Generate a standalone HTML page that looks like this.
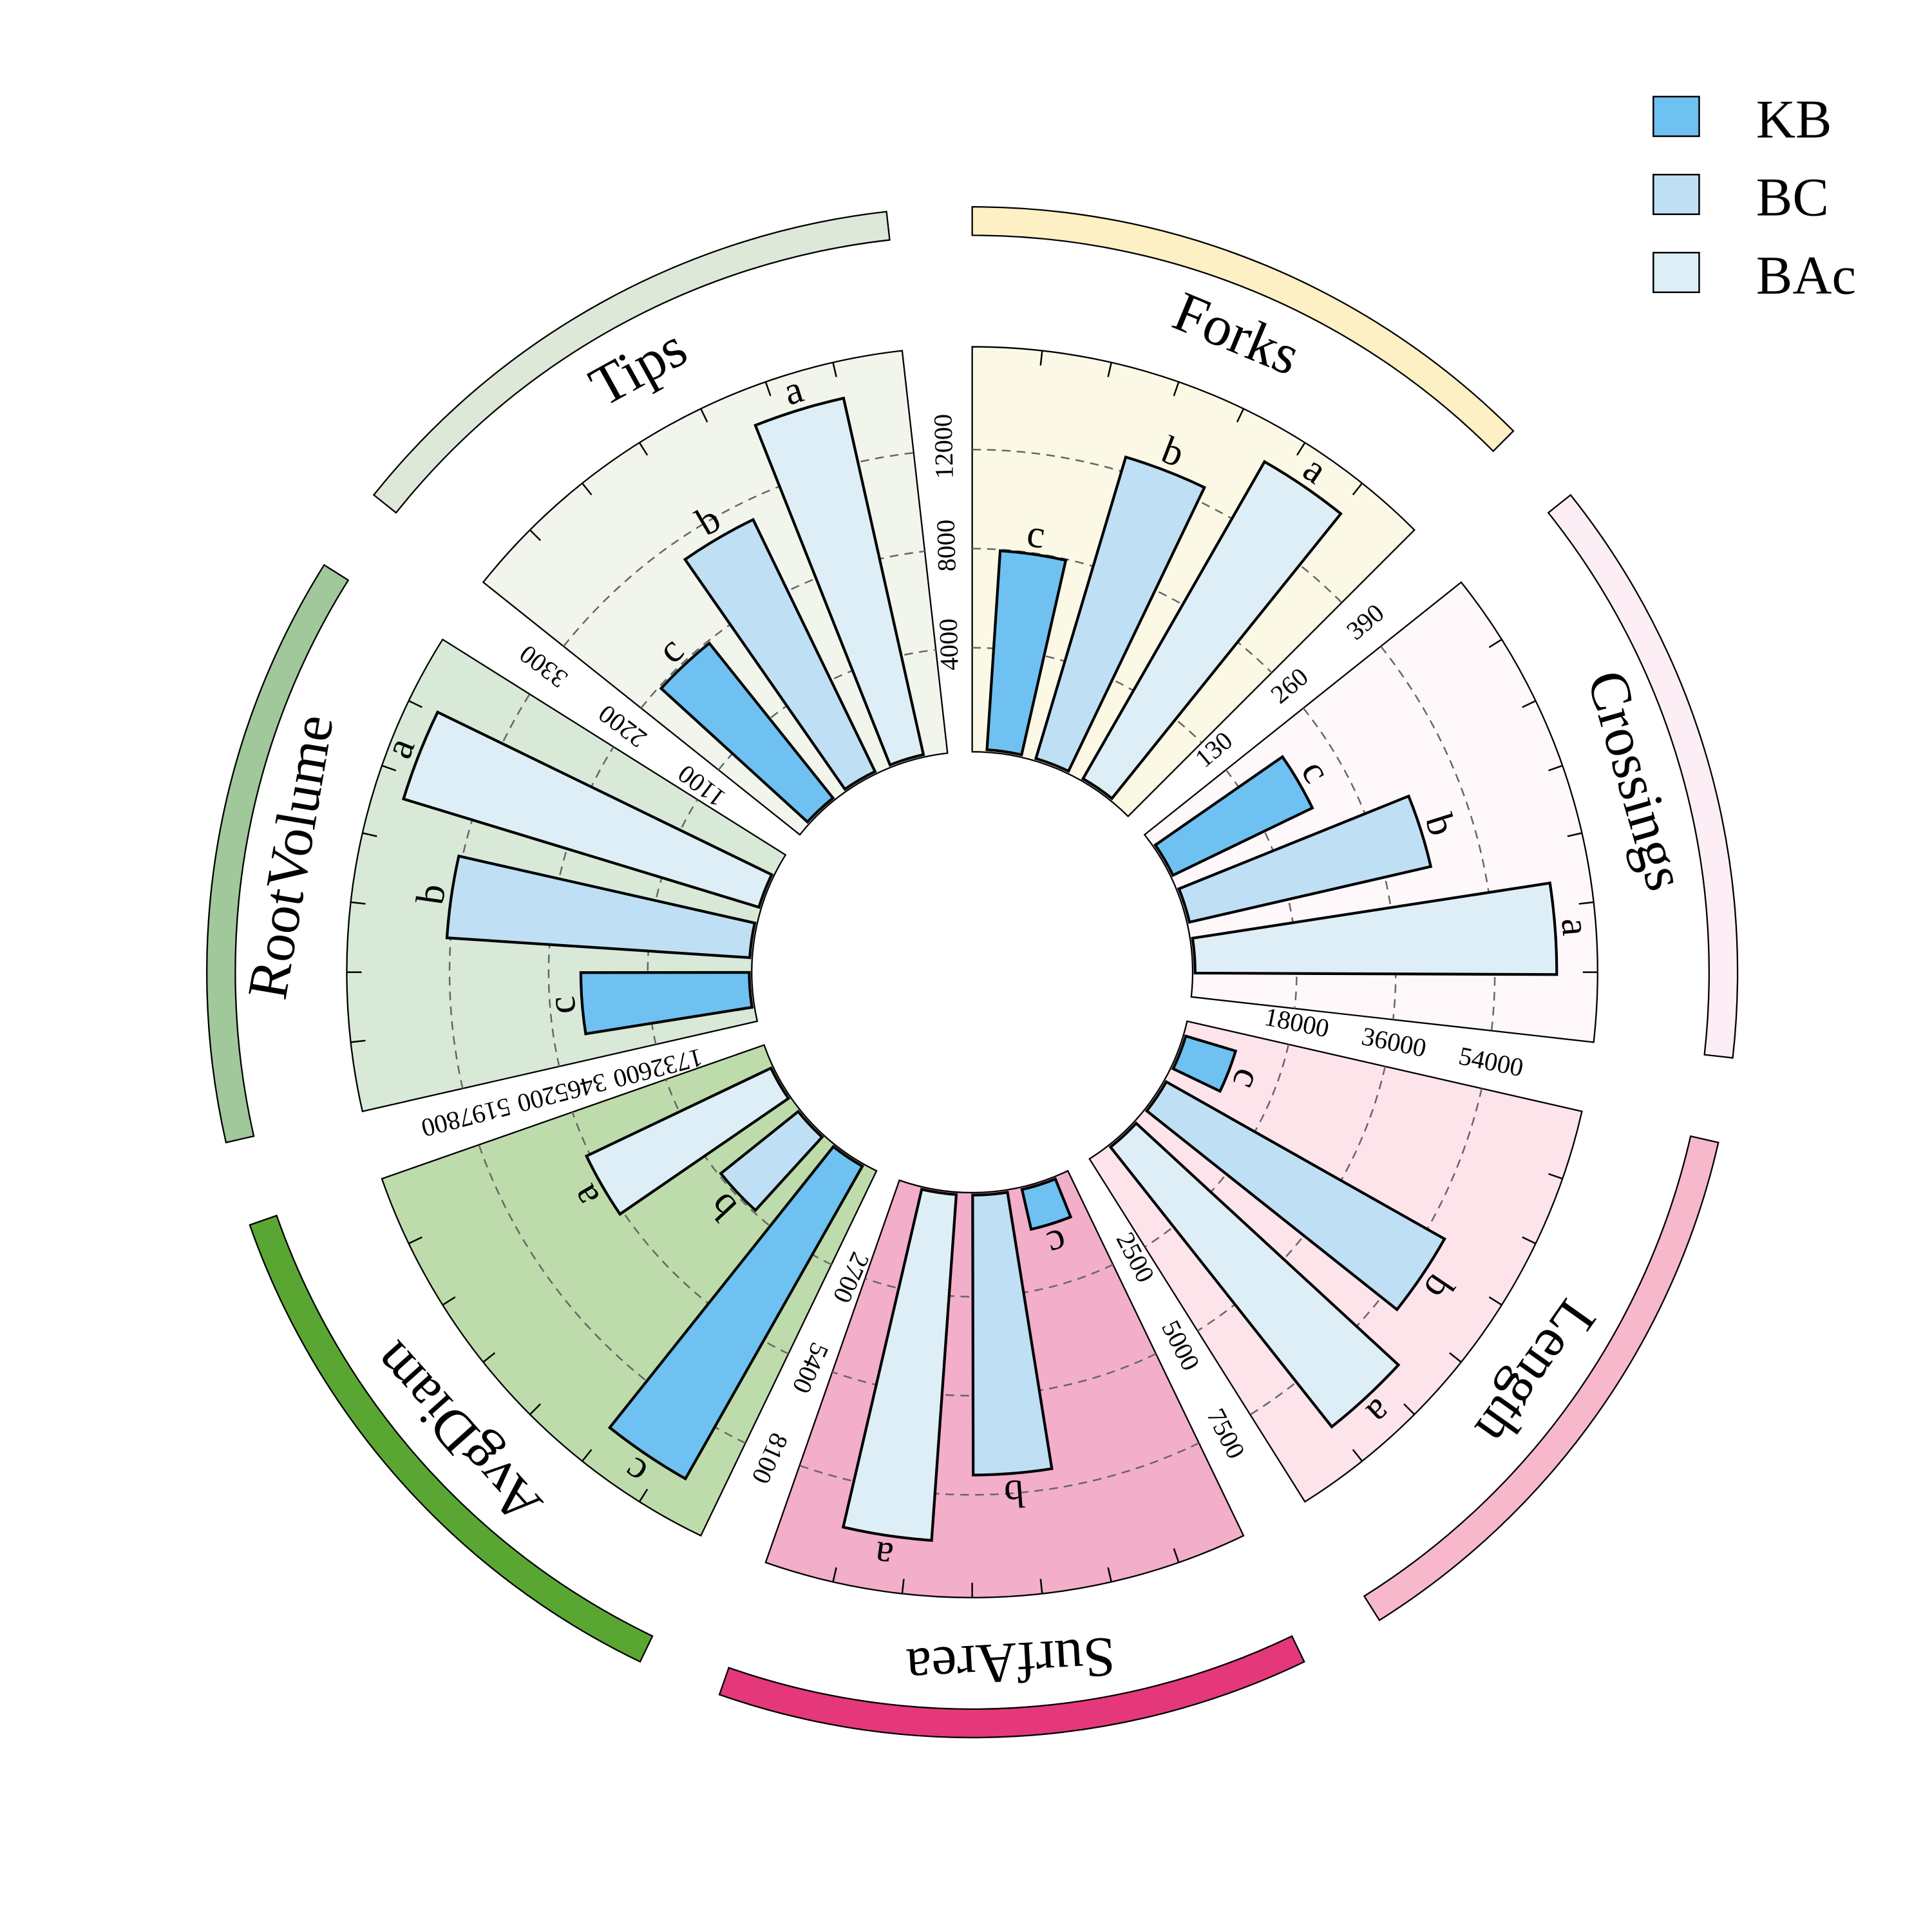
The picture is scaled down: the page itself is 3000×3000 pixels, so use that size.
<!DOCTYPE html>
<html><head><meta charset="utf-8">
<style>
html,body{margin:0;padding:0;background:#fff;}
svg{display:block;}
text{font-family:"Liberation Serif","DejaVu Serif",serif;fill:#000;}
</style></head>
<body>
<svg id="s" width="3000" height="3000" viewBox="0 0 1560 1560" xmlns="http://www.w3.org/2000/svg">
<g transform="translate(0,-5)">
<g id="shapes"></g>
<g id="txt">
<g font-size="46" text-anchor="middle">
<text transform="rotate(22.5 785 790)" x="785" y="247">Forks</text>
<text transform="rotate(73.9 785 790)" x="785" y="247">Crossings</text>
<text transform="rotate(125.4 785 790)" x="785" y="247">Length</text>
<text transform="rotate(176.8 785 790)" x="785" y="247">SurfArea</text>
<text transform="rotate(228.2 785 790)" x="785" y="247">AvgDiam</text>
<text transform="rotate(279.6 785 790)" x="785" y="247">RootVolume</text>
<text transform="rotate(331.1 785 790)" x="785" y="247">Tips</text>
</g>
<g font-size="32" text-anchor="middle">
<text transform="rotate(8.3 785 790)" x="785" y="443">c</text>
<text transform="rotate(21.1 785 790)" x="785" y="350">b</text>
<text transform="rotate(34.3 785 790)" x="785" y="309">a</text>
<text transform="rotate(59.7 785 790)" x="785" y="479">c</text>
<text transform="rotate(72.5 785 790)" x="785" y="404">b</text>
<text transform="rotate(85.7 785 790)" x="785" y="312">a</text>
<text transform="rotate(111.2 785 790)" x="785" y="562">c</text>
<text transform="rotate(124.0 785 790)" x="785" y="346">b</text>
<text transform="rotate(137.2 785 790)" x="785" y="316">a</text>
<text transform="rotate(162.6 785 790)" x="785" y="571">c</text>
<text transform="rotate(175.4 785 790)" x="785" y="378">b</text>
<text transform="rotate(188.6 785 790)" x="785" y="324">a</text>
<text transform="rotate(214.0 785 790)" x="785" y="314">c</text>
<text transform="rotate(226.8 785 790)" x="785" y="524">b</text>
<text transform="rotate(240.0 785 790)" x="785" y="439">a</text>
<text transform="rotate(265.4 785 790)" x="785" y="468">c</text>
<text transform="rotate(278.2 785 790)" x="785" y="359">b</text>
<text transform="rotate(291.4 785 790)" x="785" y="304">a</text>
<text transform="rotate(316.9 785 790)" x="785" y="444">c</text>
<text transform="rotate(329.7 785 790)" x="785" y="378">b</text>
<text transform="rotate(342.9 785 790)" x="785" y="309">a</text>
</g>
<g font-size="21" text-anchor="middle">
<text transform="rotate(-1.5 785 790) translate(780 525) rotate(-90)">4000</text>
<text transform="rotate(-1.5 785 790) translate(780 445) rotate(-90)">8000</text>
<text transform="rotate(-1.5 785 790) translate(780 365) rotate(-90)">12000</text>
<text transform="rotate(49.9 785 790) translate(780 525) rotate(-90)">130</text>
<text transform="rotate(49.9 785 790) translate(780 445) rotate(-90)">260</text>
<text transform="rotate(49.9 785 790) translate(780 365) rotate(-90)">390</text>
<text transform="rotate(101.4 785 790) translate(780 525) rotate(-90)">18000</text>
<text transform="rotate(101.4 785 790) translate(780 445) rotate(-90)">36000</text>
<text transform="rotate(101.4 785 790) translate(780 365) rotate(-90)">54000</text>
<text transform="rotate(152.8 785 790) translate(780 525) rotate(-90)">2500</text>
<text transform="rotate(152.8 785 790) translate(780 445) rotate(-90)">5000</text>
<text transform="rotate(152.8 785 790) translate(780 365) rotate(-90)">7500</text>
<text transform="rotate(204.2 785 790) translate(780 525) rotate(-90)">2700</text>
<text transform="rotate(204.2 785 790) translate(780 445) rotate(-90)">5400</text>
<text transform="rotate(204.2 785 790) translate(780 365) rotate(-90)">8100</text>
<text transform="rotate(255.6 785 790) translate(780 525) rotate(-90)">1732600</text>
<text transform="rotate(255.6 785 790) translate(780 445) rotate(-90)">3465200</text>
<text transform="rotate(255.6 785 790) translate(780 365) rotate(-90)">5197800</text>
<text transform="rotate(307.1 785 790) translate(780 525) rotate(-90)">1100</text>
<text transform="rotate(307.1 785 790) translate(780 445) rotate(-90)">2200</text>
<text transform="rotate(307.1 785 790) translate(780 365) rotate(-90)">3300</text>
</g>
</g>
</g>
<g stroke="#000" stroke-width="1.3">
<rect x="1335" y="78" width="37" height="32" fill="#6ec1f0"/>
<rect x="1335" y="141" width="37" height="32" fill="#bfdff5"/>
<rect x="1335" y="204" width="37" height="32" fill="#deeef6"/>
</g>
<g font-size="44">
<text x="1418" y="111">KB</text>
<text x="1418" y="174">BC</text>
<text x="1418" y="237">BAc</text>
</g>
</svg>
<script>
(function(){
var cx=785,cy=790,NS="http://www.w3.org/2000/svg";
var g=document.getElementById("shapes");
function pt(a,r){var t=a*Math.PI/180;return [cx+r*Math.sin(t),cy-r*Math.cos(t)];}
function wedge(a0,a1,r0,r1){
 var p1=pt(a0,r0),p2=pt(a0,r1),p3=pt(a1,r1),p4=pt(a1,r0);
 var lg=(a1-a0)>180?1:0;
 return "M"+p1+" L"+p2+" A"+r1+" "+r1+" 0 "+lg+" 1 "+p3+" L"+p4+" A"+r0+" "+r0+" 0 "+lg+" 0 "+p1+" Z";
}
function arc(a0,a1,r){var p1=pt(a0,r),p2=pt(a1,r);return "M"+p1+" A"+r+" "+r+" 0 0 1 "+p2;}
function add(tag,attrs){var e=document.createElementNS(NS,tag);for(var k in attrs)e.setAttribute(k,attrs[k]);g.appendChild(e);return e;}
var secs=[
 {bg:"#fcf8e6",tr:"#fdf0c4",v:[341,434,475]},
 {bg:"#fef8fb",tr:"#fdeef5",v:[305,380,472]},
 {bg:"#fce4ea",tr:"#f7b8cb",v:[222,438,468]},
 {bg:"#f3aec9",tr:"#e4387a",v:[213,406,460]},
 {bg:"#bedcab",tr:"#5aa632",v:[470,260,345]},
 {bg:"#d8e9d8",tr:"#a0c89a",v:[316,425,480]},
 {bg:"#f1f5ec",tr:"#dde8d8",v:[340,406,475]}
];
var cols=["#6ec1f0","#bfdff5","#deeef6"],off=[3.8,16.6,29.8],bw=9;
secs.forEach(function(s,i){
 var a0=i*360/7,a1=a0+45;
 add("path",{d:wedge(a0,a1,178,505),fill:s.bg,stroke:"#000","stroke-width":1.2});
 add("path",{d:wedge(a0,a1,595,618),fill:s.tr,stroke:"#000","stroke-width":1.2});
 [262,342,422].forEach(function(r){add("path",{d:arc(a0,a1,r),fill:"none",stroke:"#666","stroke-width":1.3,"stroke-dasharray":"7 5"});});
 for(var k=1;k<7;k++){var a=a0+k*45/7,p=pt(a,505),q=pt(a,493);add("line",{x1:p[0],y1:p[1],x2:q[0],y2:q[1],stroke:"#000","stroke-width":1.3});}
 s.v.forEach(function(v,j){add("path",{d:wedge(a0+off[j],a0+off[j]+bw,180,v),fill:cols[j],stroke:"#000","stroke-width":2.2,"stroke-linejoin":"miter"});});
});
})();
</script>
</body></html>
